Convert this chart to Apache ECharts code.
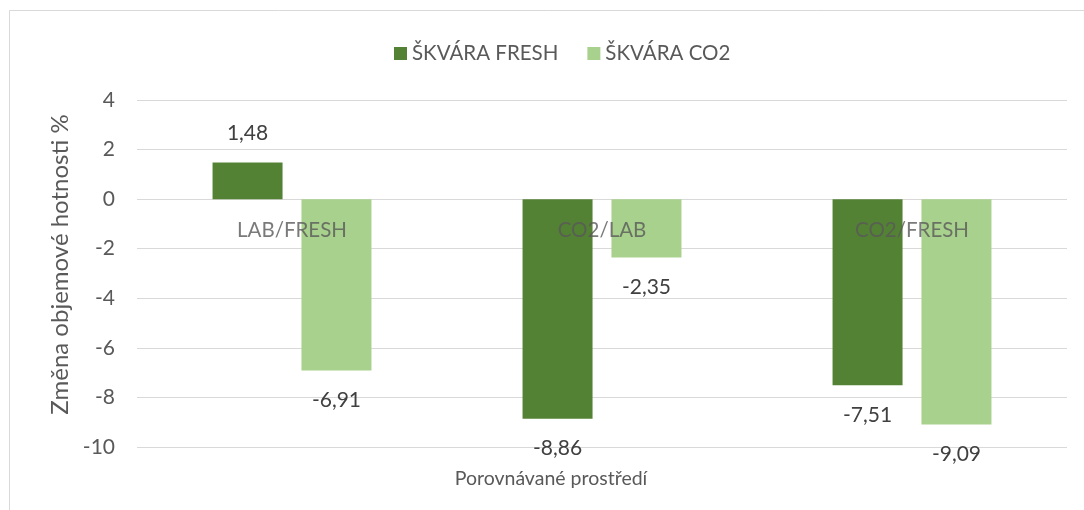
<!DOCTYPE html>
<html>
<head>
<meta charset="utf-8">
<script src="https://cdn.jsdelivr.net/npm/echarts@6/dist/echarts.min.js"></script>
<style>
  html, body { margin: 0; padding: 0; background: #fff; }
  #chart { width: 1084px; height: 510px; }
</style>
</head>
<body>
<div id="chart"></div>
<script>
// data
const categories = ["LAB/FRESH", "CO2/LAB", "CO2/FRESH"];
const freshValues = [1.48, -8.86, -7.51];
const co2Values = [-6.91, -2.35, -9.09];
const seriesNames = ["ŠKVÁRA FRESH", "ŠKVÁRA CO2"];

const FONT = "Lato";
const GREY = "#595959";

const chart = echarts.init(document.getElementById("chart"), null, { renderer: "canvas" });

const labelOpt = {
  show: true,
  position: "outside",
  distance: 19,
  color: "#404040",
  fontFamily: FONT,
  fontSize: 21,
  formatter: (p) => p.value.toFixed(2).replace(".", ","),
};

const option = {
  backgroundColor: "#fff",
  textStyle: { fontFamily: FONT },
  graphic: [
    {
      type: "rect",
      silent: true,
      shape: { x: 9.5, y: 10.5, width: 1200, height: 600 },
      style: { fill: "none", stroke: "#d9d9d9", lineWidth: 1 },
    },
  ],
  legend: {
    left: 389,
    top: 38,
    icon: "rect",
    itemWidth: 13,
    itemHeight: 13,
    itemGap: 29,
    textStyle: { color: GREY, fontSize: 20.5, fontFamily: FONT },
    data: seriesNames,
  },
  grid: {
    left: 137,
    right: 17,
    top: 100,
    bottom: 63,
    containLabel: false,
    outerBoundsMode: "none",
  },
  xAxis: {
    type: "category",
    data: categories,
    axisLine: { show: false },
    axisTick: { show: false },
    axisLabel: { show: false },
    name: "Porovnávané prostředí",
    nameLocation: "middle",
    nameGap: 22,
    nameTextStyle: { color: GREY, fontSize: 19.5, fontFamily: FONT, padding: [0, 102, 0, 0] },
  },
  yAxis: {
    type: "value",
    min: -10,
    max: 4,
    interval: 2,
    axisLine: { show: false },
    axisTick: { show: false },
    splitLine: { lineStyle: { color: "#d9d9d9", width: 1 } },
    axisLabel: { color: GREY, fontSize: 21, fontFamily: FONT, margin: 22 },
    name: "Změna objemové hotnosti %",
    nameLocation: "middle",
    nameGap: 62,
    nameTextStyle: { color: GREY, fontSize: 24, fontFamily: FONT, padding: [0, 0, 0, 18] },
  },
  series: [
    {
      name: seriesNames[0],
      type: "bar",
      data: freshValues,
      barWidth: 70,
      barGap: "27%",
      itemStyle: { color: "#548235" },
      label: labelOpt,
    },
    {
      name: seriesNames[1],
      type: "bar",
      data: co2Values,
      barWidth: 70,
      barGap: "27%",
      itemStyle: { color: "#A9D18E" },
      label: labelOpt,
    },
    {
      // category labels sitting on the zero line, drawn over the bars
      name: "categoryLabels",
      type: "scatter",
      data: categories.map((c) => [c, 0]),
      symbolSize: 0,
      silent: true,
      z: 10,
      label: {
        show: true,
        position: "bottom",
        distance: 21,
        color: GREY,
        fontFamily: FONT,
        fontSize: 20.5,
        formatter: (p) => p.value[0],
      },
    },
  ],
};

chart.setOption(option);
</script>
</body>
</html>
